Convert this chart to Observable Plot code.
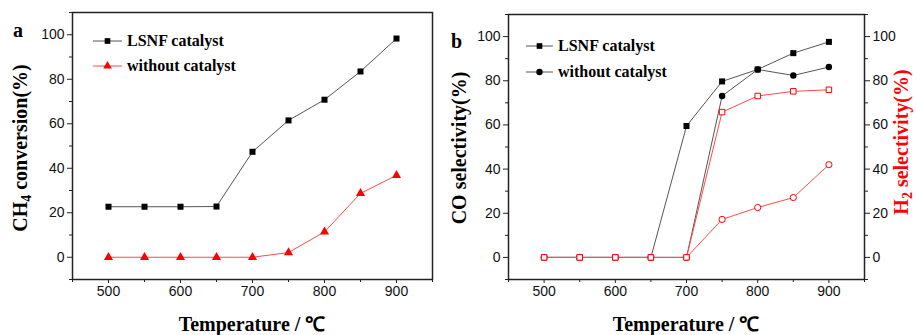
<!DOCTYPE html>
<html><head><meta charset="utf-8">
<script src="https://cdn.jsdelivr.net/npm/d3@7"></script>
<script src="https://cdn.jsdelivr.net/npm/@observablehq/plot@0.6"></script>
<style>
body{margin:0;background:#fff;}
#wrap{position:relative;width:916px;height:335px;overflow:hidden;background:#fff;}
#wrap svg{position:absolute;top:0;}
</style></head><body><div id="wrap"></div>
<script>
// ---- data ----
const temps = [500, 550, 600, 650, 700, 750, 800, 850, 900];
const ch4LSNF = [22.7, 22.7, 22.7, 22.8, 47.4, 61.5, 70.8, 83.5, 98.3];
const ch4Without = [0, 0, 0, 0, 0, 2.1, 11.4, 28.7, 36.8];
const coLSNF = [0, 0, 0, 0, 59.5, 79.7, 85.1, 92.5, 97.6];
const coWithout = [0, 0, 0, 0, 0, 73.1, 85.1, 82.4, 86.2];
const h2LSNF = [0, 0, 0, 0, 0, 65.8, 73.1, 75.2, 75.9];
const h2Without = [0, 0, 0, 0, 0, 17.2, 22.6, 27.1, 42.0];
const xMajor = [500, 600, 700, 800, 900];
const xMinor = [450, 550, 650, 750, 850, 950];
const yMajor = [0, 20, 40, 60, 80, 100];
const yMinor = [-10, 10, 30, 50, 70, 90, 110];
const legendA = ["LSNF catalyst", "without catalyst"];
const legendB = ["LSNF catalyst", "without catalyst"];

// ---- style ----
const sans = "'Liberation Sans', Arial, sans-serif";
const serif = "'Liberation Serif', 'Times New Roman', serif";
const BLACK_LINE = "#555", BLACK = "#000", RED_LINE = "#ff4a4a", RED = "#ff0000";
const rows = ys => temps.map((t, i) => ({t, v: ys[i]}));
const wrap = document.getElementById("wrap");

function axes(rightAxis) {
  const m = [
    Plot.axisX({ticks: xMajor, tickSize: 4, tickPadding: 3, label: null, fill: "#111", stroke: "#222"}),
    Plot.axisX({ticks: xMinor, tickSize: 3, tickFormat: () => "", label: null, stroke: "#222"}),
    Plot.axisY({ticks: yMajor, tickSize: 5, tickPadding: 3, label: null, fill: "#111", stroke: "#222"}),
    Plot.axisY({ticks: yMinor, tickSize: 3, tickFormat: () => "", label: null, stroke: "#222"})
  ];
  if (rightAxis) {
    m.push(Plot.axisY({anchor: "right", ticks: yMajor, tickSize: 5, tickPadding: 3, label: null, fill: "#111", stroke: "#222"}));
    m.push(Plot.axisY({anchor: "right", ticks: yMinor, tickSize: 3, tickFormat: () => "", label: null, stroke: "#222"}));
  }
  return m;
}

// ---- panel a ----
const A = Plot.plot({
  width: 456, height: 335, marginLeft: 72, marginRight: 24, marginTop: 12, marginBottom: 56,
  style: {fontFamily: sans, fontSize: "14px", color: "#111", background: "transparent", overflow: "visible"},
  x: {domain: [450, 950]},
  y: {domain: [-10, 110]},
  marks: [
    ...axes(false),
    Plot.line(rows(ch4LSNF), {x: "t", y: "v", stroke: BLACK_LINE, strokeWidth: 1}),
    Plot.dot(rows(ch4LSNF), {x: "t", y: "v", symbol: "square", r: 3.4, fill: BLACK}),
    Plot.line(rows(ch4Without), {x: "t", y: "v", stroke: RED_LINE, strokeWidth: 1}),
    Plot.dot(rows(ch4Without), {x: "t", y: "v", symbol: "triangle", r: 3.4, fill: RED}),
    Plot.frame({stroke: "#222", strokeWidth: 1.5})
  ]
});
A.style.left = "0px";
wrap.appendChild(A);

// ---- panel b ----
const B = Plot.plot({
  width: 460, height: 335, marginLeft: 52, marginRight: 52, marginTop: 14, marginBottom: 56,
  style: {fontFamily: sans, fontSize: "14px", color: "#111", background: "transparent", overflow: "visible"},
  x: {domain: [450, 950]},
  y: {domain: [-10, 110]},
  marks: [
    ...axes(true),
    Plot.line(rows(coLSNF), {x: "t", y: "v", stroke: BLACK_LINE, strokeWidth: 1}),
    Plot.dot(rows(coLSNF), {x: "t", y: "v", symbol: "square", r: 3.4, fill: BLACK}),
    Plot.line(rows(coWithout), {x: "t", y: "v", stroke: BLACK_LINE, strokeWidth: 1}),
    Plot.dot(rows(coWithout), {x: "t", y: "v", symbol: "circle", r: 3.2, fill: BLACK}),
    Plot.line(rows(h2Without), {x: "t", y: "v", stroke: RED_LINE, strokeWidth: 1}),
    Plot.dot(rows(h2Without), {x: "t", y: "v", symbol: "circle", r: 3.1, fill: "#fff", stroke: RED, strokeWidth: 1}),
    Plot.line(rows(h2LSNF), {x: "t", y: "v", stroke: RED_LINE, strokeWidth: 1}),
    Plot.dot(rows(h2LSNF), {x: "t", y: "v", symbol: "square", r: 3.1, fill: "#fff", stroke: RED, strokeWidth: 1}),
    Plot.frame({stroke: "#222", strokeWidth: 1.5})
  ]
});
B.style.left = "456px";
wrap.appendChild(B);

// ---- titles, labels and legends ----
function txt(svg, x, y, opts = {}) {
  const t = d3.select(svg).append("text")
    .attr("x", x).attr("y", y)
    .attr("font-family", serif).attr("font-weight", "bold")
    .attr("font-size", opts.size || 20)
    .attr("fill", opts.fill || "#000")
    .attr("text-anchor", opts.anchor || "start");
  if (opts.rotate) t.attr("transform", `rotate(-90,${x},${y})`);
  return t;
}
function rotTitle(svg, x, y, parts, fill) {
  const t = txt(svg, x, y, {anchor: "middle", rotate: true, fill});
  parts.forEach(p => {
    const s = t.append("tspan").text(p.text);
    if (p.sub) s.attr("font-size", 14).attr("dy", 4);
    if (p.after) s.attr("dy", -4);
  });
}
// axis titles
txt(A, 252, 331, {anchor: "middle"}).text("Temperature / ℃");
txt(B, 230, 331, {anchor: "middle"}).text("Temperature / ℃");
rotTitle(A, 27, 148, [{text: "CH"}, {text: "4", sub: true}, {text: " conversion(%)", after: true}]);
rotTitle(B, 466 - 456, 148, [{text: "CO selectivity(%)"}]);
rotTitle(B, 908 - 456, 142, [{text: "H"}, {text: "2", sub: true}, {text: " selectivity(%)", after: true}], "#ff0000");
// panel letters
txt(A, 13, 37).text("a");
txt(B, 451 - 456, 48).text("b");

// legends
function legend(svg, x0, x1, y, sym, fillSym, strokeLine, label) {
  const g = d3.select(svg).append("g");
  g.append("line").attr("x1", x0).attr("x2", x1).attr("y1", y).attr("y2", y)
    .attr("stroke", strokeLine).attr("stroke-width", 1);
  const size = Math.PI * 3.2 * 3.2;
  g.append("path").attr("d", d3.symbol().type(sym).size(size)())
    .attr("transform", `translate(${(x0 + x1) / 2},${y})`)
    .attr("fill", fillSym);
  txt(svg, x1 + 5, y + 5, {size: 16}).text(label);
}
legend(A, 93, 122, 41, d3.symbolSquare, BLACK, BLACK_LINE, legendA[0]);
legend(A, 93, 122, 66, d3.symbolTriangle, RED, RED_LINE, legendA[1]);
legend(B, 526 - 456, 553 - 456, 46, d3.symbolSquare, BLACK, BLACK_LINE, legendB[0]);
legend(B, 526 - 456, 553 - 456, 72, d3.symbolCircle, BLACK, BLACK_LINE, legendB[1]);
</script>
</body></html>
